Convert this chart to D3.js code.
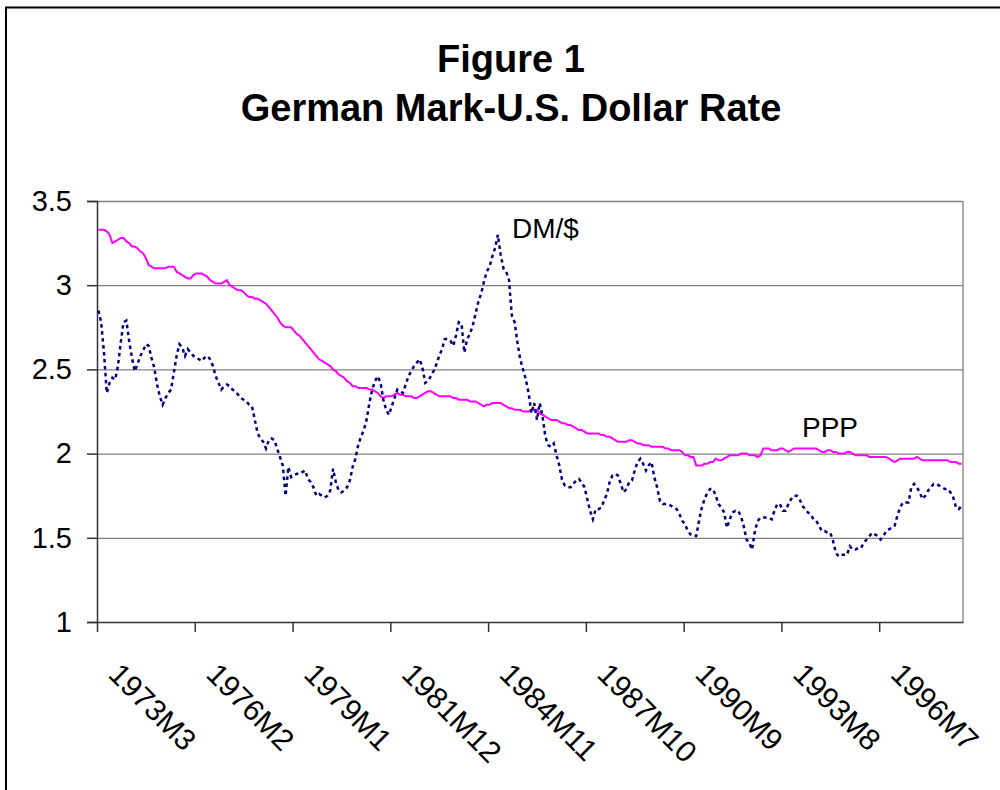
<!DOCTYPE html>
<html>
<head>
<meta charset="utf-8">
<script src="https://cdn.jsdelivr.net/npm/d3@7"></script>
<style>
  body { margin: 0; background: #fff; }
  svg { display: block; font-family: "Liberation Sans", Arial, sans-serif; }
</style>
</head>
<body>
<div id="chart"></div>
<script>
// monthly categories, 1973M3 .. 1998M12
var months = [];
for (var i = 0; i < 310; i++) {
    var t = 2 + i;
    months.push((1973 + Math.floor(t / 12)) + "M" + (t % 12 + 1));
}

var tickLabels = ["1973M3", "1976M2", "1979M1", "1981M12", "1984M11",
                  "1987M10", "1990M9", "1993M8", "1996M7"];
var yTicks = [1, 1.5, 2, 2.5, 3, 3.5];

// DM per US dollar, one row per year
var dmRate = [
    2.85, 2.78, 2.60, 2.36, 2.42, 2.45, 2.44, 2.52, 2.66, 2.78,
    2.79, 2.67, 2.57, 2.49, 2.53, 2.58, 2.61, 2.65, 2.64, 2.57, 2.51, 2.41,
    2.34, 2.29, 2.33, 2.36, 2.38, 2.48, 2.58, 2.65, 2.63, 2.58, 2.62, 2.60,
    2.58, 2.57, 2.56, 2.55, 2.57, 2.58, 2.56, 2.52, 2.46, 2.42, 2.38, 2.40,
    2.41, 2.40, 2.38, 2.37, 2.35, 2.33, 2.32, 2.31, 2.29, 2.28, 2.20, 2.12,
    2.09, 2.07, 2.03, 2.08, 2.09, 2.08, 2.03, 1.98, 1.93, 1.75, 1.92, 1.86,
    1.87, 1.88, 1.88, 1.89, 1.90, 1.85, 1.83, 1.80, 1.75, 1.76, 1.75, 1.74,
    1.75, 1.78, 1.91, 1.83, 1.78, 1.77, 1.78, 1.80, 1.84, 1.92, 1.97, 2.05,
    2.10, 2.14, 2.20, 2.30, 2.38, 2.43, 2.46, 2.42, 2.32, 2.26, 2.23, 2.28,
    2.33, 2.38, 2.37, 2.36, 2.41, 2.46, 2.49, 2.52, 2.54, 2.56, 2.51, 2.42,
    2.43, 2.46, 2.49, 2.53, 2.58, 2.62, 2.68, 2.68, 2.67, 2.64, 2.70, 2.78,
    2.77, 2.60, 2.68, 2.71, 2.76, 2.83, 2.90, 2.95, 3.02, 3.08, 3.11, 3.17,
    3.22, 3.30, 3.18, 3.10, 3.08, 3.03, 2.82, 2.78, 2.66, 2.56, 2.50, 2.44,
    2.36, 2.24, 2.30, 2.20, 2.30, 2.22, 2.10, 2.05, 2.04, 2.06, 1.99, 1.93,
    1.84, 1.81, 1.80, 1.80, 1.82, 1.84, 1.85, 1.83, 1.80, 1.73, 1.66, 1.61,
    1.67, 1.67, 1.68, 1.72, 1.76, 1.83, 1.87, 1.88, 1.87, 1.82, 1.77, 1.79,
    1.83, 1.84, 1.90, 1.95, 1.97, 1.94, 1.90, 1.93, 1.95, 1.86, 1.80, 1.72,
    1.70, 1.70, 1.70, 1.69, 1.68, 1.67, 1.64, 1.60, 1.58, 1.54, 1.52, 1.51,
    1.51, 1.60, 1.68, 1.73, 1.77, 1.79, 1.79, 1.75, 1.70, 1.68, 1.65, 1.56,
    1.61, 1.65, 1.66, 1.66, 1.63, 1.57, 1.49, 1.47, 1.43, 1.54, 1.60, 1.62,
    1.62, 1.62, 1.62, 1.61, 1.66, 1.70, 1.70, 1.66, 1.66, 1.70, 1.73, 1.75,
    1.75, 1.73, 1.69, 1.67, 1.65, 1.64, 1.61, 1.60, 1.57, 1.54, 1.54, 1.53,
    1.53, 1.48, 1.41, 1.39, 1.40, 1.40, 1.40, 1.45, 1.43, 1.43, 1.44, 1.44,
    1.47, 1.49, 1.51, 1.53, 1.52, 1.51, 1.49, 1.51, 1.54, 1.55, 1.56, 1.57,
    1.63, 1.68, 1.71, 1.71, 1.71, 1.80, 1.82, 1.80, 1.77, 1.73, 1.75, 1.78,
    1.80, 1.82, 1.82, 1.81, 1.80, 1.79, 1.79, 1.77, 1.74, 1.68, 1.67, 1.69
];

// purchasing power parity rate
var pppRate = [
    3.33, 3.33, 3.33, 3.32, 3.30, 3.25, 3.26, 3.27, 3.28, 3.28,
    3.26, 3.25, 3.23, 3.23, 3.22, 3.20, 3.19, 3.16, 3.12, 3.11, 3.10, 3.10,
    3.10, 3.10, 3.10, 3.11, 3.11, 3.11, 3.08, 3.07, 3.06, 3.05, 3.04, 3.04,
    3.06, 3.07, 3.07, 3.07, 3.06, 3.05, 3.03, 3.02, 3.01, 3.01, 3.01, 3.02,
    3.03, 3.00, 2.99, 2.98, 2.97, 2.97, 2.96, 2.94, 2.93, 2.93, 2.92, 2.92,
    2.91, 2.90, 2.89, 2.87, 2.85, 2.83, 2.81, 2.78, 2.76, 2.75, 2.75, 2.75,
    2.73, 2.71, 2.70, 2.68, 2.66, 2.64, 2.62, 2.60, 2.58, 2.56, 2.55, 2.54,
    2.53, 2.52, 2.50, 2.49, 2.47, 2.46, 2.45, 2.43, 2.42, 2.40, 2.40, 2.39,
    2.39, 2.39, 2.39, 2.38, 2.38, 2.37, 2.36, 2.34, 2.33, 2.34, 2.34, 2.34,
    2.35, 2.36, 2.35, 2.35, 2.34, 2.34, 2.34, 2.33, 2.33, 2.34, 2.35, 2.36,
    2.37, 2.37, 2.36, 2.35, 2.34, 2.34, 2.34, 2.34, 2.34, 2.33, 2.33, 2.32,
    2.32, 2.32, 2.32, 2.31, 2.31, 2.31, 2.30, 2.29, 2.28, 2.29, 2.29, 2.30,
    2.30, 2.30, 2.30, 2.29, 2.28, 2.27, 2.27, 2.26, 2.26, 2.26, 2.25, 2.25,
    2.25, 2.26, 2.26, 2.26, 2.24, 2.23, 2.22, 2.21, 2.20, 2.20, 2.20, 2.19,
    2.18, 2.18, 2.17, 2.17, 2.16, 2.15, 2.14, 2.14, 2.13, 2.12, 2.12, 2.12,
    2.12, 2.12, 2.11, 2.11, 2.10, 2.10, 2.09, 2.08, 2.07, 2.07, 2.07, 2.07,
    2.08, 2.08, 2.07, 2.06, 2.06, 2.05, 2.05, 2.05, 2.04, 2.04, 2.04, 2.04,
    2.04, 2.03, 2.03, 2.02, 2.02, 2.02, 2.02, 2.01, 1.99, 1.99, 1.98, 1.98,
    1.93, 1.93, 1.93, 1.94, 1.94, 1.95, 1.95, 1.97, 1.96, 1.96, 1.97, 1.98,
    1.99, 1.99, 1.99, 1.99, 2.00, 2.00, 2.00, 1.99, 1.99, 1.99, 1.98, 1.99,
    2.03, 2.03, 2.03, 2.02, 2.02, 2.02, 2.03, 2.03, 2.02, 2.01, 2.02, 2.03,
    2.03, 2.03, 2.03, 2.03, 2.03, 2.03, 2.03, 2.03, 2.02, 2.01, 2.01, 2.02,
    2.02, 2.01, 2.01, 2.00, 2.00, 2.00, 2.01, 2.01, 2.00, 1.99, 1.99, 1.99,
    1.99, 1.99, 1.98, 1.98, 1.98, 1.98, 1.98, 1.98, 1.98, 1.97, 1.96, 1.95,
    1.96, 1.97, 1.97, 1.97, 1.97, 1.97, 1.97, 1.98, 1.97, 1.96, 1.96, 1.96,
    1.96, 1.96, 1.96, 1.96, 1.96, 1.96, 1.96, 1.95, 1.95, 1.95, 1.94, 1.94
];

var W = 1000, H = 790;
var plotL = 97, plotR = 963, plotT = 201, plotB = 622;

var svg = d3.select("#chart").append("svg")
    .attr("width", W)
    .attr("height", H);

// outer frame (top and left edges only)
svg.append("line").attr("x1", 5).attr("x2", W).attr("y1", 7.5).attr("y2", 7.5)
    .attr("stroke", "#000").attr("stroke-width", 2);
svg.append("line").attr("x1", 6).attr("x2", 6).attr("y1", 7).attr("y2", H)
    .attr("stroke", "#000").attr("stroke-width", 2);

// title
svg.append("text")
    .attr("x", 511).attr("y", 72)
    .attr("text-anchor", "middle")
    .attr("font-size", "38px").attr("font-weight", "bold")
    .text("Figure 1");
svg.append("text")
    .attr("x", 511).attr("y", 121)
    .attr("text-anchor", "middle")
    .attr("font-size", "38px").attr("font-weight", "bold")
    .text("German Mark-U.S. Dollar Rate");

var x = d3.scaleLinear().domain([0, months.length]).range([plotL, plotR]);
var y = d3.scaleLinear().domain([1, 3.5]).range([plotB, plotT]);

// gridlines
svg.append("g")
    .attr("transform", "translate(" + plotL + ",0)")
    .call(d3.axisLeft(y).tickValues(yTicks.slice(1)).tickSize(-(plotR - plotL)).tickFormat(""))
    .call(function (g) { g.select(".domain").remove(); })
    .selectAll("line")
    .attr("stroke", "#808080")
    .attr("stroke-width", 1.3);

// right border of plot area
svg.append("line")
    .attr("x1", plotR).attr("x2", plotR).attr("y1", plotT).attr("y2", plotB)
    .attr("stroke", "#808080").attr("stroke-width", 1.3);

// y axis
var yAxis = svg.append("g")
    .attr("transform", "translate(" + plotL + ",0)")
    .call(d3.axisLeft(y).tickValues(yTicks).tickSize(10).tickPadding(15)
          .tickFormat(function (d) { return d; }));
yAxis.selectAll("text").attr("font-size", "29px").attr("fill", "#000")
    .attr("font-family", "Liberation Sans, Arial, sans-serif");
yAxis.selectAll("line, path").attr("stroke", "#333").attr("stroke-width", 1.5);

// x axis
var tickIdx = tickLabels.map(function (l) { return months.indexOf(l); });
var xAxis = svg.append("g")
    .attr("transform", "translate(0," + plotB + ")")
    .call(d3.axisBottom(x).tickValues(tickIdx).tickSize(10).tickFormat("").tickSizeOuter(0));
xAxis.selectAll("line, path").attr("stroke", "#333").attr("stroke-width", 1.5);

svg.selectAll("text.xlab")
    .data(tickIdx)
    .enter()
    .append("text")
    .attr("class", "xlab")
    .attr("font-size", "30px")
    .attr("transform", function (d) {
        return "translate(" + (x(d) + 10) + ",676) rotate(45)";
    })
    .text(function (d) { return months[d]; });

var line = d3.line()
    .x(function (d, i) { return x(i + 0.5); })
    .y(function (d) { return y(d); });

svg.append("path")
    .datum(pppRate)
    .attr("d", line)
    .attr("fill", "none")
    .attr("stroke", "#ff00ff")
    .attr("stroke-width", 2);

svg.append("path")
    .datum(dmRate)
    .attr("d", line)
    .attr("fill", "none")
    .attr("stroke", "#000080")
    .attr("stroke-width", 2.5)
    .attr("stroke-dasharray", "3.5,3.5");

// series labels
svg.append("text").attr("x", 512).attr("y", 238)
    .attr("font-size", "28px").text("DM/$");
svg.append("text").attr("x", 802).attr("y", 437)
    .attr("font-size", "28px").text("PPP");
</script>
</body>
</html>
